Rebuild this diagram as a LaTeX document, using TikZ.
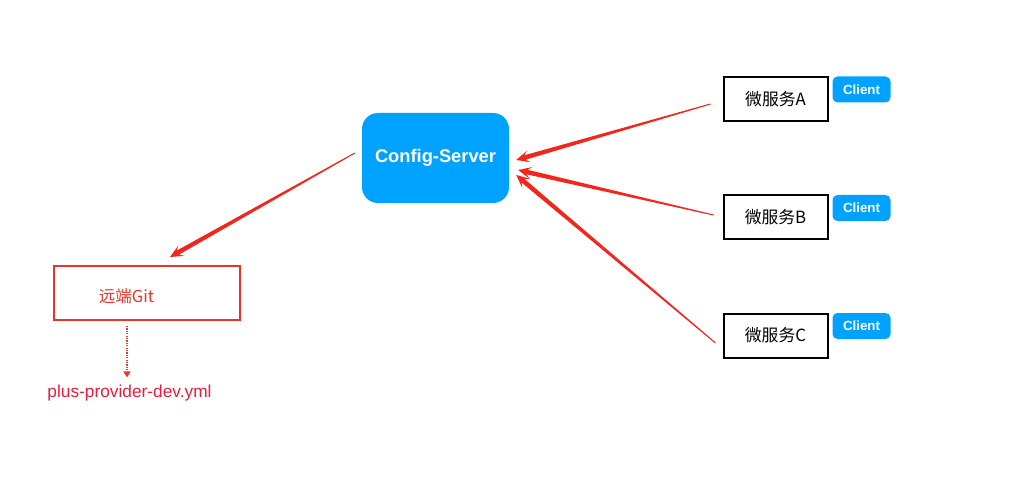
\documentclass[tikz,border=0pt]{standalone}
\usepackage{fontspec}
\setmainfont{Liberation Sans}
\newfontfamily\cjk{Noto Sans CJK SC}
\usetikzlibrary{calc,arrows.meta}
\definecolor{cfgblue}{RGB}{0,162,255}
\definecolor{arrowred}{RGB}{242,38,28}
\definecolor{gitred}{RGB}{234,52,42}
\definecolor{ymlred}{RGB}{232,30,62}

% tapered arrow: #1 start, #2 tip
\newcommand{\taper}[2]{%
  \path (#2) coordinate (tp) ($(#2)!9pt!(#1)$) coordinate (hn) ($(#2)!13pt!(#1)$) coordinate (hb);
  \fill[arrowred] ($(#1)!0.5pt!90:(tp)$) -- ($(hn)!2.3pt!-90:(#1)$) -- ($(hb)!6pt!-90:(#1)$)
    -- (tp) -- ($(hb)!6pt!90:(#1)$) -- ($(hn)!2.3pt!90:(#1)$) -- ($(#1)!0.5pt!-90:(tp)$) -- cycle;
}

\begin{document}
\begin{tikzpicture}[x=1pt,y=-1pt,
  server/.style={fill=cfgblue,rounded corners=16pt,minimum width=147pt,minimum height=90pt,
    text=white,font=\bfseries\fontsize{18.3}{20}\selectfont},
  gitbox/.style={draw=gitred,line width=2pt,minimum width=186pt,minimum height=54pt},
  svc/.style={draw=black,line width=2pt,minimum width=104pt,minimum height=44pt,
    font=\cjk\fontsize{16.8}{18}\selectfont},
  client/.style={fill=cfgblue,rounded corners=5pt,minimum width=58pt,minimum height=26pt,
    inner sep=0pt,text=white,font=\bfseries\fontsize{13.3}{15}\selectfont}]
\useasboundingbox (0,0) rectangle (1012,497);

\node[server] (cs) at (435.5,158) {Config-Server};
\node[gitbox] (git) at (146.5,293) {};
\node[text=gitred,font=\cjk\fontsize{16.5}{18}\selectfont] (gitlabel) at ($(git.center)+(-20,3)$) {远端Git};
\node[text=ymlred,font=\fontsize{17.3}{19}\selectfont] (yml) at (129.5,393) {plus-provider-dev.yml};

\foreach \s/\l/\y in {a/A/99, b/B/217.5, c/C/335.5}
	{
	\node[svc] (ms\s) at (775.5,\y) {微服务\l};
	\node[client] (cl\s) at ($(ms\s.north east)+(33,13.5)$) {Client};
	}

% free ends of the connectors
\coordinate (sa) at ($(msa.west)+(-12,5)$);
\coordinate (sb) at ($(msb.west)+(-9,-2.5)$);
\coordinate (sc) at ($(msc.west)+(-7,7.5)$);
\coordinate (ta) at ($(cs.east)+(7,2)$);
\coordinate (tb) at ($(cs.east)+(9,12)$);
\coordinate (tc) at ($(cs.east)+(7,17)$);
\coordinate (sg) at ($(cs.west)+(-7,-5)$);
\coordinate (tg) at ($(git.north)+(23.5,-8)$);
\coordinate (gd) at ($(git.south)+(-19.5,5)$);

\taper{sa}{ta}
\taper{sb}{tb}
\taper{sc}{tc}
\taper{sg}{tg}

\draw[gitred,line width=1.2pt,dash pattern=on 1.2pt off 1.2pt,-{Triangle[width=7pt,length=6pt]}] (gd) -- ($(gd |- yml.north)+(0,-4)$);
\end{tikzpicture}
\end{document}
